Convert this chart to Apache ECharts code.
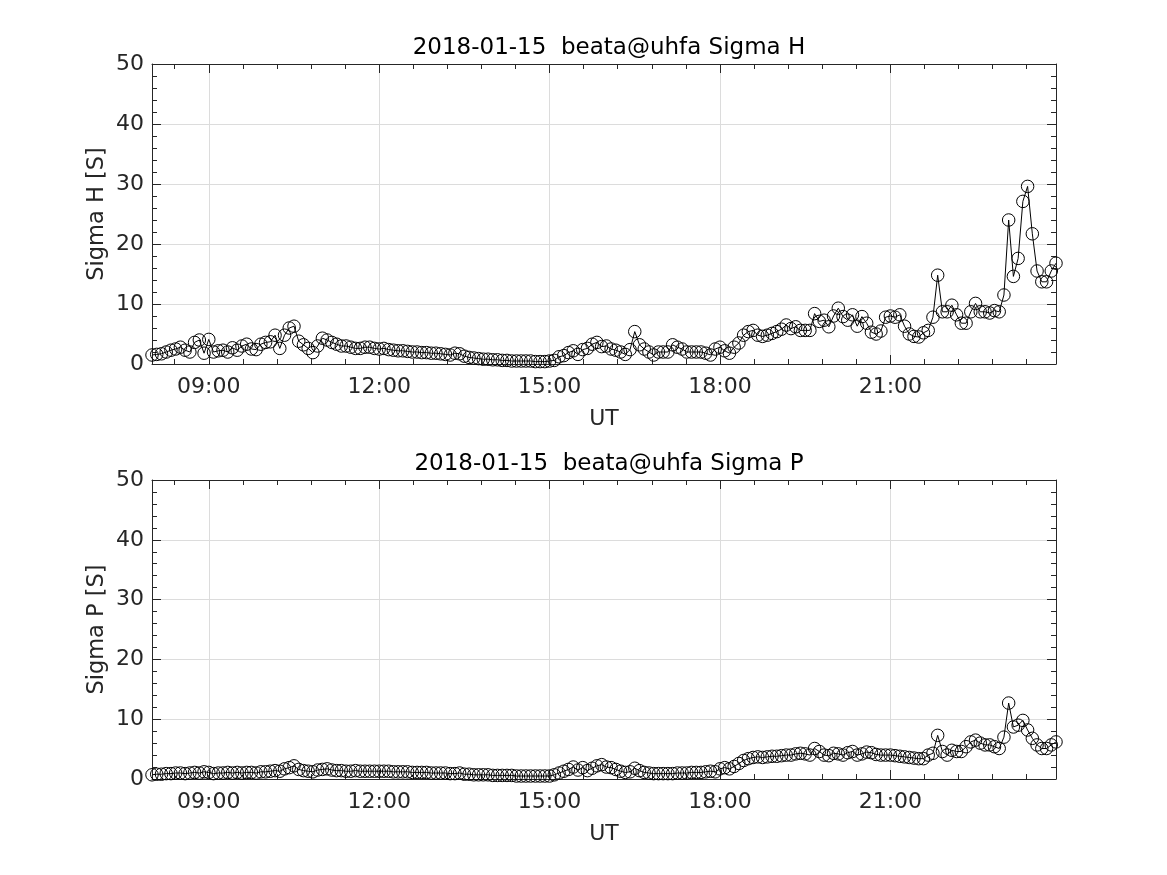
<!DOCTYPE html>
<html>
<head>
<meta charset="utf-8">
<script src="https://cdn.jsdelivr.net/npm/echarts@6/dist/echarts.min.js"></script>
<style>
html,body{margin:0;padding:0;background:#fff;}
#chart{width:1167px;height:875px;}
</style>
</head>
<body>
<div id="chart"></div>
<script>
// ---- data ----
const dateLabel = '2018-01-15';
const station = 'beata@uhfa';
const startHour = 8;        // first sample 08:00 UT
const stepMinutes = 5;      // sample spacing
const xTickHours = [9, 12, 15, 18, 21];
const yTicks = [0, 10, 20, 30, 40, 50];
const yNames = ['Sigma H [S]', 'Sigma P [S]'];

const sigmaH = [
  1.5, 1.6, 1.7, 2.0, 2.3, 2.5, 2.8, 2.3, 2.0, 3.6, 4.0, 1.8, 4.1,
  2.0, 2.2, 2.3, 2.0, 2.7, 2.3, 3.0, 3.3, 2.5, 2.4, 3.3, 3.6, 3.7,
  4.8, 2.6, 4.8, 6.0, 6.3, 3.8, 3.2, 2.6, 1.9, 3.0, 4.3,
  4.0, 3.6, 3.3, 3.0, 3.0, 2.8, 2.6, 2.6, 2.8, 2.8, 2.6,
  2.5, 2.6, 2.4, 2.3, 2.2, 2.2, 2.1, 2.0, 2.0, 1.9, 1.9, 1.8, 1.8,
  1.7, 1.6, 1.5, 1.8, 1.7, 1.3, 1.1, 1.0, 0.9, 0.8, 0.8, 0.7,
  0.7, 0.6, 0.6, 0.5, 0.5, 0.5, 0.5, 0.5, 0.4, 0.4, 0.4, 0.5,
  0.6, 1.2, 1.4, 1.9, 2.2, 1.6, 2.4, 2.6, 3.3, 3.6, 2.9, 3.0, 2.5, 2.3, 2.0, 1.6, 2.4,
  5.4, 3.2, 2.5, 2.0, 1.5, 2.0, 2.0, 2.0, 3.2, 2.8, 2.5, 2.0, 2.0, 2.0, 2.0, 1.8, 1.5, 2.5,
  2.8, 2.2, 1.8, 2.8, 3.5, 4.8, 5.4, 5.6, 4.8, 4.6, 4.8, 5.1,
  5.4, 5.8, 6.5, 5.9, 6.2, 5.6, 5.6, 5.6, 8.4, 7.1, 7.3, 6.2, 8.0, 9.3, 7.9, 7.3, 8.2, 6.3,
  7.9, 6.8, 5.3, 5.0, 5.5, 7.8, 8.0, 7.8, 8.2, 6.3, 5.0, 4.6, 4.5, 5.2, 5.6, 7.8,
  14.8,
  8.7, 8.7, 9.8, 8.2, 6.8, 6.8, 8.7, 10.1, 8.7, 8.7, 8.5, 8.9, 8.7, 11.5,
  24.0, 14.6, 17.6, 27.1, 29.6, 21.7, 15.5, 13.7, 13.7, 15.5, 16.8
];

const sigmaP = [
  0.7, 0.8, 0.8, 0.9, 0.9, 1.0, 1.0, 0.9, 1.0, 1.1, 1.0, 1.2,
  1.1, 0.9, 1.0, 1.0, 1.1, 1.0, 1.1, 1.0, 1.1, 1.1, 1.0, 1.2,
  1.2, 1.3, 1.4, 1.3, 1.7, 1.9, 2.2, 1.6, 1.4, 1.3, 1.2, 1.5,
  1.6, 1.7, 1.5, 1.4, 1.4, 1.3, 1.3, 1.4, 1.3, 1.3, 1.3, 1.3,
  1.3, 1.3, 1.3, 1.2, 1.2, 1.2, 1.2, 1.1, 1.1, 1.1, 1.1, 1.0,
  1.0, 1.0, 1.0, 0.9, 0.9, 1.0, 0.8, 0.8, 0.7, 0.7, 0.7, 0.7,
  0.6, 0.6, 0.6, 0.6, 0.6, 0.5, 0.5, 0.5, 0.5, 0.5, 0.5, 0.5,
  0.5, 0.7, 1.0, 1.3, 1.6, 2.0, 1.5, 1.9, 1.4, 1.8, 2.2, 2.4,
  2.0, 1.9, 1.6, 1.3, 1.1, 1.2, 1.8, 1.4, 1.1, 1.0, 0.9, 0.9,
  0.9, 0.9, 0.9, 1.0, 1.0, 1.0, 1.1, 1.1, 1.1, 1.2, 1.3, 1.2,
  1.7, 1.9, 1.7, 2.1, 2.6, 3.1, 3.4, 3.6, 3.7, 3.6, 3.7, 3.8,
  3.8, 3.9, 4.0, 4.0, 4.2, 4.3, 4.2, 4.0, 5.1, 4.6, 4.0, 3.9,
  4.3, 4.2, 4.0, 4.4, 4.6, 4.0, 4.2, 4.5, 4.4, 4.1, 4.0, 4.0,
  4.0, 3.9, 3.8, 3.7, 3.6, 3.5, 3.4, 3.4, 4.0, 4.3, 7.3, 4.6,
  4.0, 4.8, 4.6, 4.6, 5.4, 6.2, 6.5, 6.0, 5.7, 5.7, 5.4, 5.1,
  7.0, 12.7, 8.7, 9.0, 9.8, 8.2, 6.8, 5.7, 5.1, 5.1, 5.7, 6.2
];

// ---- build ----
// x is expressed in units of 3 hours so that the automatic ticks fall on 09,12,15,18,21
const UNIT = 3;
const hourOf = i => startHour + i * stepMinutes / 60;
const toPairs = arr => arr.map((v, i) => [hourOf(i) / UNIT, v]);
const xMin = hourOf(0) / UNIT;
const xMax = hourOf(sigmaH.length - 1) / UNIT;

const FONT = 'DejaVu Sans';
const TXT = '#262626';
const fmtX = v => {
  const h = Math.round(v * UNIT * 1000) / 1000;
  if (xTickHours.indexOf(h) < 0) return '';
  return (h < 10 ? '0' : '') + h + ':00';
};

const GRIDS = [
  { left: 152, top: 64, width: 904, height: 300 },
  { left: 152, top: 480, width: 904, height: 299 }
];

function xAxes(gridIndex, top) {
  const common = {
    type: 'value', gridIndex, min: xMin, max: xMax, splitNumber: 5,
    axisLine: { show: true, onZero: false, lineStyle: { color: TXT, width: 1 } },
    axisTick: { show: true, inside: true, length: 9, lineStyle: { color: TXT } },
    minorTick: { show: true, splitNumber: 5, length: 5, lineStyle: { color: TXT } },
  };
  if (top) {
    return Object.assign({}, common, {
      position: 'top', axisLabel: { show: false }, splitLine: { show: false }
    });
  }
  return Object.assign({}, common, {
    position: 'bottom',
    name: 'UT', nameLocation: 'middle', nameGap: 44,
    nameTextStyle: { fontFamily: FONT, fontSize: 22, color: TXT },
    axisLabel: { show: true, formatter: fmtX, margin: 12, fontFamily: FONT, fontSize: 22, color: TXT, showMinLabel: false, showMaxLabel: false },
    splitLine: { show: true, lineStyle: { color: '#dcdcdc', width: 1 } }
  });
}

function yAxes(gridIndex, right) {
  const common = {
    type: 'value', gridIndex, min: yTicks[0], max: yTicks[yTicks.length - 1], interval: yTicks[1] - yTicks[0],
    axisLine: { show: true, onZero: false, lineStyle: { color: TXT, width: 1 } },
    axisTick: { show: true, inside: true, length: 9, lineStyle: { color: TXT } },
    minorTick: { show: true, splitNumber: 5, length: 5, lineStyle: { color: TXT } },
  };
  if (right) {
    return Object.assign({}, common, { position: 'right', axisLabel: { show: false }, splitLine: { show: false } });
  }
  return Object.assign({}, common, {
    position: 'left',
    axisLabel: { show: true, margin: 8, fontFamily: FONT, fontSize: 22, color: TXT },
    splitLine: { show: true, lineStyle: { color: '#dcdcdc', width: 1 } }
  });
}

function lineSeries(data, xi, yi, name) {
  return {
    type: 'line', name, xAxisIndex: xi, yAxisIndex: yi,
    data: toPairs(data),
    symbol: 'circle', symbolSize: 12.5, showSymbol: true, showAllSymbol: true,
    itemStyle: { color: 'rgba(0,0,0,0)', borderColor: '#000', borderWidth: 1 },
    lineStyle: { color: '#000', width: 1 },
    emphasis: { disabled: true },
    silent: true, z: 3
  };
}

// vertical y-axis titles, centred on each plot's height
const yNameGraphics = GRIDS.map((g, k) => ({
  type: 'text', x: 97, y: g.top + g.height / 2, rotation: Math.PI / 2, silent: true,
  style: { text: yNames[k], fontFamily: FONT, fontSize: 22.5, fill: TXT, align: 'center', verticalAlign: 'middle' }
}));

const chart = echarts.init(document.getElementById('chart'), null, { renderer: 'canvas' });
chart.setOption({
  backgroundColor: '#fff',
  animation: false,
  title: [
    { text: dateLabel + '  ' + station + ' Sigma H', left: 604, top: 32, textAlign: 'center',
      textStyle: { fontFamily: FONT, fontSize: 23, fontWeight: 'normal', color: '#000' } },
    { text: dateLabel + '  ' + station + ' Sigma P', left: 604, top: 448, textAlign: 'center',
      textStyle: { fontFamily: FONT, fontSize: 23, fontWeight: 'normal', color: '#000' } }
  ],
  grid: GRIDS,
  graphic: yNameGraphics,
  xAxis: [xAxes(0, false), xAxes(0, true), xAxes(1, false), xAxes(1, true)],
  yAxis: [yAxes(0, false), yAxes(0, true), yAxes(1, false), yAxes(1, true)],
  series: [
    lineSeries(sigmaH, 0, 0, 'Sigma H'),
    lineSeries(sigmaP, 2, 2, 'Sigma P')
  ]
});
</script>
</body>
</html>
